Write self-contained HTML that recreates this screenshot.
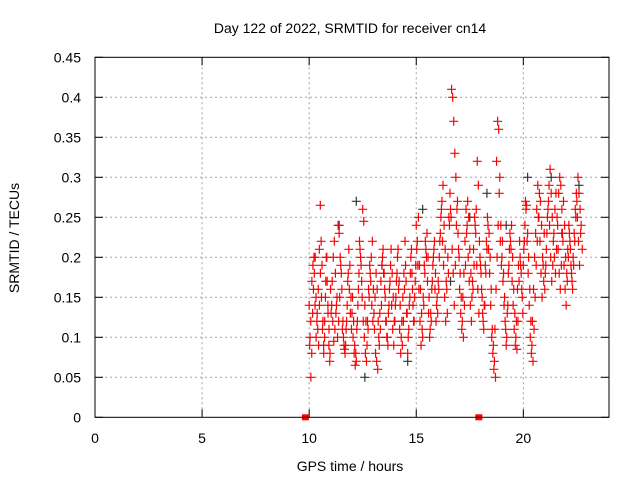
<!DOCTYPE html>
<html><head><meta charset="utf-8"><style>
body{margin:0;background:#fff}
svg{display:block;font-family:"Liberation Sans",sans-serif}
</style></head><body>
<svg id="chart" width="640" height="480">
<rect width="640" height="480" fill="#fff"/>
<text x="350" y="33" text-anchor="middle" font-size="14">Day 122 of 2022, SRMTID for receiver cn14</text>
<text x="350" y="471" text-anchor="middle" font-size="14">GPS time / hours</text>
<text transform="translate(19,238) rotate(-90)" text-anchor="middle" font-size="14">SRMTID / TECUs</text>
<g id="grid"></g>
<g id="axes"></g>
<g id="marks"></g>
<rect x="95" y="57.3" width="514" height="360" fill="none" stroke="#000" stroke-width="1"/>
</svg>
<script>
const xTicks=[0,5,10,15,20];
const yTicks=[0,0.05,0.1,0.15,0.2,0.25,0.3,0.35,0.4,0.45];
const yTickLabels=["0","0.05","0.1","0.15","0.2","0.25","0.3","0.35","0.4","0.45"];
const hours=[10,11,12,13,14,15,16,17,18,19,20,21,22];
const valuesByHour=[
[.14,.10,.05,.08,.13,.16,.18,.20,.15,.12,.11,.09,.14,.265,.22,.19,.12,.08,.10,.15,.20,.17,.13,.09,.07],
[.16,.14,.12,.095,.11,.13,.15,.24,.23,.20,.18,.11,.10,.085,.09,.12,.17,.21,.19,.15],
[.13,.10,.08,.065,.07,.12,.16,.22,.20,.17,.26,.245,.14,.12,.09,.11,.15,.18,.20,.22],
[.16,.11,.08,.07,.06,.10,.13,.17,.19,.21,.18,.15,.12,.10,.13,.16,.19,.14,.11,.09],
[.12,.15,.18,.21,.17,.14,.10,.09,.12,.16,.19,.13,.08,.11,.15,.20,.18,.14,.12,.17],
[.24,.22,.25,.19,.16,.13,.10,.14,.18,.21,.23,.20,.15,.11,.12,.17,.20,.22,.18,.14],
[.13,.16,.22,.25,.27,.29,.24,.21,.17,.13,.18,.24,.26,.41,.40,.37,.33,.30,.26,.23],
[.20,.18,.15,.12,.10,.14,.19,.23,.27,.25,.21,.18,.15,.16,.19,.24,.26,.32,.29,.22],
[.19,.16,.13,.11,.14,.18,.21,.24,.23,.20,.16,.11,.09,.07,.05,.32,.37,.36,.30,.24],
[.20,.17,.14,.12,.09,.13,.18,.21,.22,.24,.20,.16,.13,.10,.085,.12,.17,.20,.18,.15],
[.19,.22,.27,.265,.23,.20,.16,.12,.09,.07,.11,.15,.19,.22,.25,.28,.27,.24,.20,.17],
[.16,.19,.23,.26,.29,.31,.28,.25,.22,.20,.18,.21,.24,.28,.30,.29,.26,.22,.19,.16],
[.14,.17,.20,.23,.21,.18,.16,.19,.22,.25,.27,.30,.28,.26,.24,.21]
];
const valuesByHourB=[
[.09,.12,.17,.19,.20,.14,.10,.13,.16,.21,.18,.15,.11,.09,.12,.17,.20,.14,.11,.08],
[.13,.17,.20,.22,.18,.14,.10,.12,.15,.19,.16,.12,.09,.08,.11,.14,.18,.16,.13,.11],
[.15,.12,.09,.08,.11,.14,.18,.21,.19,.15,.12,.10,.08,.07,.12,.16,.19,.17,.14,.12],
[.13,.15,.18,.16,.12,.09,.11,.14,.20,.18,.16,.12,.10,.09,.14,.17,.21,.18,.15,.12],
[.14,.17,.20,.16,.11,.08,.12,.15,.18,.22,.17,.13,.10,.14,.18,.21,.16,.12,.15,.19],
[.21,.19,.16,.12,.09,.11,.15,.19,.22,.20,.17,.13,.10,.13,.16,.19,.21,.16,.12,.15],
[.17,.20,.23,.26,.22,.19,.15,.12,.16,.20,.25,.28,.25,.21,.18,.14,.19,.24,.27,.21],
[.16,.13,.11,.15,.18,.22,.26,.24,.20,.17,.14,.12,.17,.21,.25,.23,.19,.16,.13,.20],
[.18,.15,.12,.14,.19,.22,.25,.21,.18,.14,.10,.08,.06,.11,.16,.20,.24,.28,.22,.19],
[.22,.18,.15,.11,.10,.14,.19,.23,.21,.17,.14,.11,.09,.12,.16,.19,.22,.19,.16,.13],
[.21,.24,.26,.22,.18,.14,.10,.08,.12,.16,.20,.23,.26,.29,.25,.22,.18,.15,.19,.23],
[.18,.21,.25,.27,.24,.20,.17,.19,.23,.26,.28,.25,.21,.18,.16,.19,.23,.27,.24,.20],
[.18,.21,.24,.22,.19,.17,.20,.23,.26,.28,.25,.22,.19,.23]
];
const grayTimes=[12.6,12.2,17.5,19.2,21.3,22.6,15.3,11.4,14.6,20.2,16.6,18.3,13.4,21.8];
const grayValues=[.05,.27,.25,.24,.30,.29,.26,.24,.07,.30,.17,.28,.19,.23];
const gapTimes=[9.8,17.9];

const NS="http://www.w3.org/2000/svg";
const X0=95,X1=609,Y0=417.3,Y1=57.3;
const xs=t=>X0+(t/24)*(X1-X0);
const ys=v=>Y0-(v/0.45)*(Y0-Y1);
function mk(tag,attrs,parent){const e=document.createElementNS(NS,tag);for(const k in attrs)e.setAttribute(k,attrs[k]);parent.appendChild(e);return e;}
const grid=document.getElementById('grid'),axes=document.getElementById('axes'),marks=document.getElementById('marks');
xTicks.forEach(t=>{
 const x=xs(t);
 if(t>0){const g=mk('line',{x1:x,x2:x,y1:Y1,y2:Y0,stroke:'#a0a0a0','stroke-dasharray':'2,3'},grid);
 
 }
 const a=mk('line',{x1:x,x2:x,y1:Y0,y2:Y0-8,stroke:'#000'},axes);
 
 
 const b=mk('line',{x1:x,x2:x,y1:Y1,y2:Y1+8,stroke:'#000'},axes);
 
 
 const l=mk('text',{x:x,y:443,'text-anchor':'middle','font-size':14},axes);
 l.textContent=String(t);
 
 
});
yTicks.forEach((v,i)=>{
 const y=ys(v);
 if(i>0&&i<yTicks.length-1){const g=mk('line',{x1:X0,x2:X1,y1:y,y2:y,stroke:'#a0a0a0','stroke-dasharray':'2,3'},grid);
 
 }
 const a=mk('line',{x1:X0,x2:X0+8,y1:y,y2:y,stroke:'#000'},axes);
 
 
 const b=mk('line',{x1:X1,x2:X1-8,y1:y,y2:y,stroke:'#000'},axes);
 
 
 const l=mk('text',{x:81,y:y+5,'text-anchor':'end','font-size':14},axes);
 l.textContent=yTickLabels[i];
 
 
});
function plus(t,v,color,name){
 const x=xs(t),y=ys(v);
 const p=mk('path',{d:`M${x-4.5},${y}H${x+4.5}M${x},${y-4.5}V${y+4.5}`,stroke:color,'stroke-width':1.2,fill:'none'},marks);
 
 
}
grayTimes.forEach((t,i)=>plus(t,grayValues[i],'#333','gray-point'));
hours.forEach((h,hi)=>{
 const vals=valuesByHour[hi];
 const step=(hi===hours.length-1)?0.05:1/vals.length;
 vals.forEach((v,j)=>plus(h+j*step,v,'#ff0000','red-point'));
 const valsB=valuesByHourB[hi];
 const stepB=(hi===hours.length-1)?0.05:1/valsB.length;
 valsB.forEach((v,j)=>plus(h+0.025+j*stepB,v,'#ff0000','red-point'));
});
gapTimes.forEach(t=>{
 const r=mk('rect',{x:xs(t)-3,y:Y0-3,width:7,height:6,fill:'#ff0000'},marks);
 
 
});
</script>
</body></html>
